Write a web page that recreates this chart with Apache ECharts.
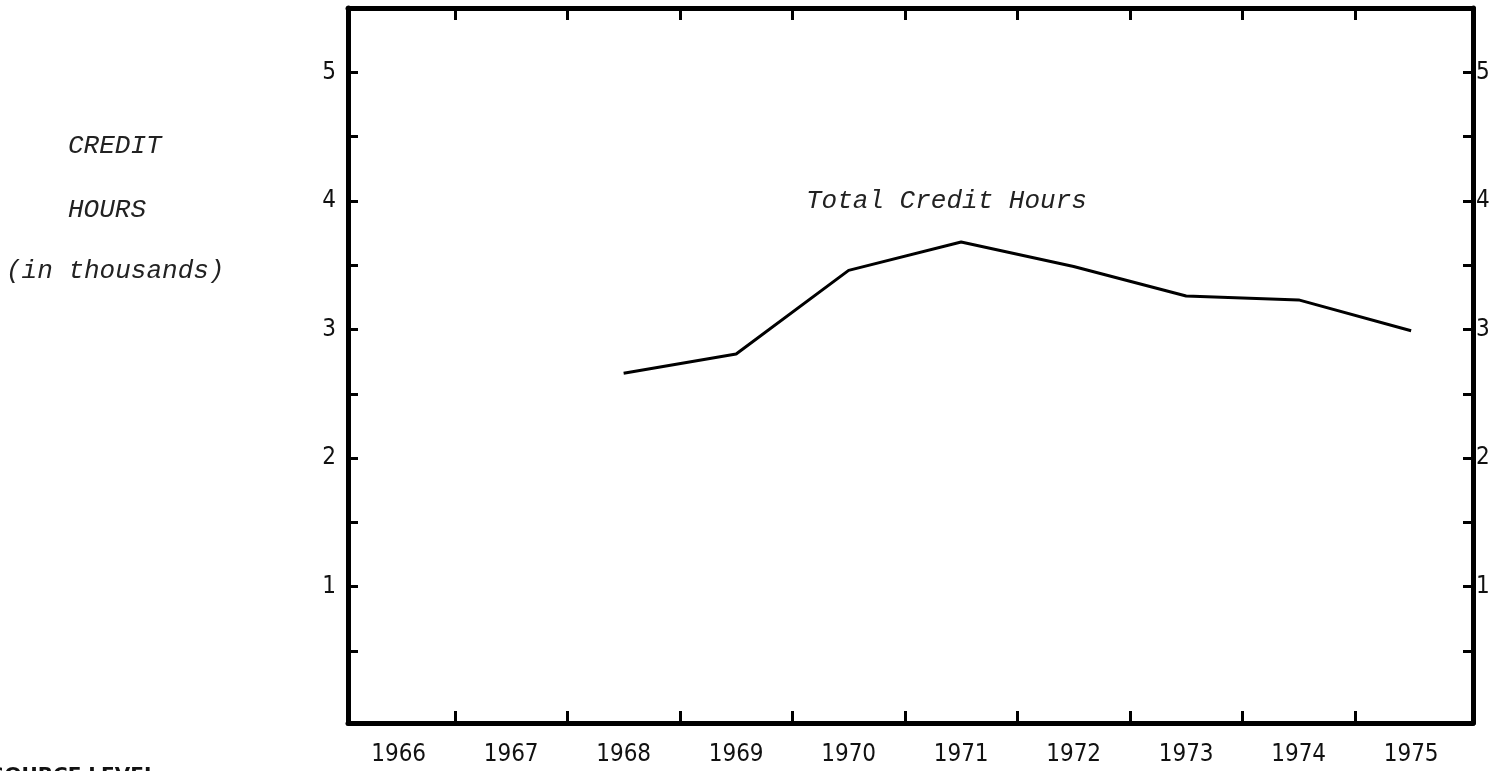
<!DOCTYPE html>
<html>
<head>
<meta charset="utf-8">
<script src="https://cdn.jsdelivr.net/npm/echarts@6/dist/echarts.min.js"></script>
<style>
  html, body { margin: 0; padding: 0; background: #fff; }
  #main { width: 1506px; height: 771px; }
</style>
</head>
<body>
<div id="main"></div>
<script>
// data (thousands of credit hours)
var years = [1968, 1969, 1970, 1971, 1972, 1973, 1974, 1975];
var hours = [2.66, 2.81, 3.46, 3.68, 3.49, 3.26, 3.23, 2.99];

// axis labels and ticks
var yearLabels = [1966, 1967, 1968, 1969, 1970, 1971, 1972, 1973, 1974, 1975];
var yearTicks = [1966.5, 1967.5, 1968.5, 1969.5, 1970.5, 1971.5, 1972.5, 1973.5, 1974.5];
var hourLabels = [1, 2, 3, 4, 5];
var hourTicks = [0.5, 1, 1.5, 2, 2.5, 3, 3.5, 4, 4.5, 5];

var chart = echarts.init(document.getElementById('main'));

var mono = 'italic 26px "Liberation Mono", "DejaVu Sans Mono", monospace';
var tickFont = '"Liberation Sans Narrow", "DejaVu Sans Condensed", sans-serif';

function xAxisOf(pos, showLabel) {
  return {
    type: 'value',
    position: pos,
    min: 1965.55,
    max: 1975.55,
    axisLine: { show: true, onZero: false, lineStyle: { color: '#000', width: 5 } },
    axisTick: {
      show: true, inside: true, length: 12, customValues: yearTicks,
      lineStyle: { color: '#000', width: 3 }
    },
    axisLabel: {
      show: showLabel, customValues: yearLabels, margin: 20,
      color: '#111', fontSize: 24, fontFamily: tickFont,
      formatter: function (v) { return String(v); }
    },
    splitLine: { show: false }
  };
}

function yAxisOf(pos, margin) {
  return {
    type: 'value',
    position: pos,
    min: -0.06,
    max: 5.5,
    axisLine: { show: true, onZero: false, lineStyle: { color: '#000', width: 5 } },
    axisTick: {
      show: true, inside: true, length: 10, customValues: hourTicks,
      lineStyle: { color: '#000', width: 3 }
    },
    axisLabel: {
      show: true, customValues: hourLabels, margin: margin,
      color: '#111', fontSize: 24, fontFamily: tickFont
    },
    splitLine: { show: false }
  };
}

var option = {
  backgroundColor: '#fff',
  animation: false,
  grid: { left: 348, right: 33, top: 8, bottom: 48 },
  xAxis: [xAxisOf('bottom', true), xAxisOf('top', false)],
  yAxis: [yAxisOf('left', 12), yAxisOf('right', 3)],
  graphic: [
    { type: 'text', left: 68, top: 133, style: { text: 'CREDIT', font: mono, fill: '#222' } },
    { type: 'text', left: 68, top: 197, style: { text: 'HOURS', font: mono, fill: '#222' } },
    { type: 'text', left: 6, top: 258, style: { text: '(in thousands)', font: mono, fill: '#222' } },
    { type: 'text', left: 806, top: 188, style: { text: 'Total Credit Hours', font: mono, fill: '#222' } },
    { type: 'text', left: -10, top: 766, style: { text: 'SOURCE LEVEL', font: 'bold 20px "DejaVu Sans", sans-serif', fill: '#111' } }
  ],
  series: [{
    type: 'line',
    data: years.map(function (y, i) { return [y, hours[i]]; }),
    symbol: 'none',
    lineStyle: { color: '#000', width: 3 }
  }]
};

chart.setOption(option);
</script>
</body>
</html>
